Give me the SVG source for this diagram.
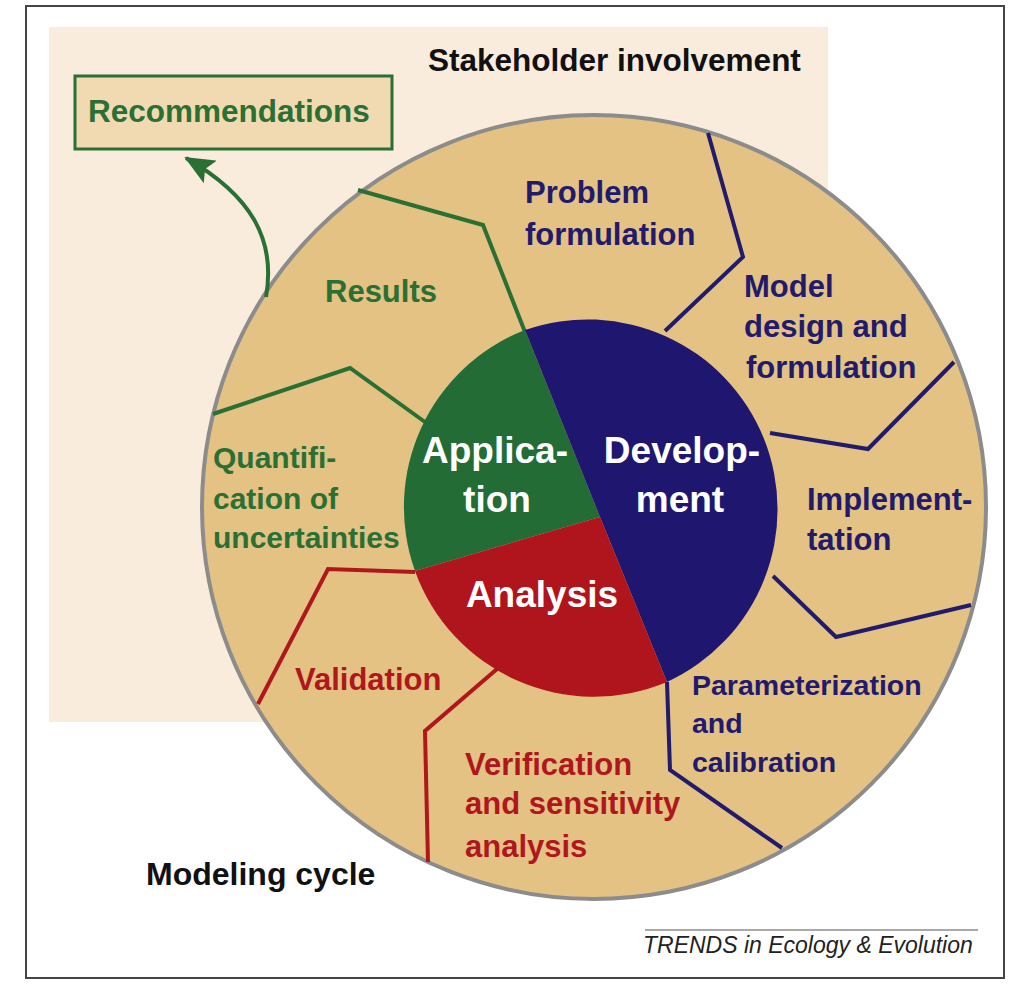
<svg xmlns="http://www.w3.org/2000/svg" width="1031" height="999" viewBox="0 0 1031 999">
<style>
text{font-family:"Liberation Sans",Arial,sans-serif;font-weight:bold}
.g{fill:#2a6f33}.b{fill:#221a6c}.r{fill:#b0171d}.k{fill:#111}.w{fill:#fff}
.cg{stroke:#2a6f33}.cb{stroke:#221a6c}.cr{stroke:#b0171d}
.con{fill:none;stroke-width:4;stroke-linejoin:miter}
</style>
<defs>
<marker id="ah" markerUnits="userSpaceOnUse" markerWidth="30" markerHeight="26" viewBox="0 0 30 26" refX="28" refY="13" orient="auto">
<path d="M0,0 L30,13 L0,26 L6,13 Z" fill="#2a6f33"/>
</marker>
</defs>
<rect x="0" y="0" width="1031" height="999" fill="#fff"/>
<g id="frame"><rect x="26" y="6" width="978" height="972" fill="#fff" stroke="#444" stroke-width="2"/></g>
<g id="stakeholder-area"><rect x="49" y="27" width="779" height="695" fill="#f9ecdc"/>
<text class="k" x="428" y="71" font-size="31.5">Stakeholder involvement</text></g>
<g id="recommendations"><rect x="75" y="76" width="317" height="73" fill="#f1dab2" stroke="#2a6f33" stroke-width="3"/>
<text class="g" x="88" y="122" font-size="31.5">Recommendations</text></g>
<g id="modeling-cycle"><circle cx="594" cy="507" r="392" fill="#e3c284" stroke="#8c8c8c" stroke-width="4"/></g>
<g id="connectors">
<polyline class="con cg" points="358,190 483,225 525,332"/>
<polyline class="con cg" points="213,414 350,368 425,422"/>
<polyline class="con cr" points="258,704 328,569 415,572"/>
<polyline class="con cr" points="428,862 425,731 497,669"/>
<polyline class="con cb" points="708,133 743,257 665,331"/>
<polyline class="con cb" points="954,362 868,449 770,433"/>
<polyline class="con cb" points="971,605 836,637 773,576"/>
<polyline class="con cb" points="782,848 670,770 667,682"/>
<path class="con cg" d="M266,297 C276,240 252,196 186,158" marker-end="url(#ah)"/>
</g>
<g id="application"><path d="M600,517 L525,330 A190,190 0 0 0 415,571 Z" fill="#236c36"/>
<text class="w" x="495" y="463" font-size="37" text-anchor="middle">Applica-</text>
<text class="w" x="497" y="512" font-size="37" text-anchor="middle">tion</text></g>
<g id="development"><path d="M600,517 L525,330 A190,190 0 0 1 667,682 Z" fill="#1f176f"/>
<text class="w" x="682" y="463" font-size="37" text-anchor="middle">Develop-</text>
<text class="w" x="680" y="512" font-size="37" text-anchor="middle">ment</text></g>
<g id="analysis"><path d="M600,517 L415,571 A190,190 0 0 0 667,682 Z" fill="#b0141c"/>
<text class="w" x="542" y="607" font-size="37" text-anchor="middle">Analysis</text></g>
<g id="problem-formulation"><text class="b" x="525" y="203" font-size="31">Problem</text><text class="b" x="525" y="245" font-size="31">formulation</text></g>
<g id="model-design"><text class="b" x="744" y="297" font-size="31">Model</text><text class="b" x="744" y="337" font-size="31">design and</text><text class="b" x="746" y="378" font-size="31">formulation</text></g>
<g id="implementation"><text class="b" x="807" y="510" font-size="31">Implement-</text><text class="b" x="807" y="550" font-size="31">tation</text></g>
<g id="parameterization"><text class="b" x="692" y="695" font-size="28.5">Parameterization</text><text class="b" x="692" y="733" font-size="28.5">and</text><text class="b" x="692" y="772" font-size="28.5">calibration</text></g>
<g id="verification"><text class="r" x="465" y="775" font-size="31">Verification</text><text class="r" x="465" y="814" font-size="31">and sensitivity</text><text class="r" x="465" y="857" font-size="31">analysis</text></g>
<g id="validation"><text class="r" x="295" y="690" font-size="31">Validation</text></g>
<g id="quantification"><text class="g" x="213" y="468" font-size="30">Quantifi-</text><text class="g" x="213" y="509" font-size="30">cation of</text><text class="g" x="213" y="548" font-size="30">uncertainties</text></g>
<g id="results"><text class="g" x="325" y="302" font-size="31">Results</text></g>
<g id="modeling-label"><text class="k" x="146" y="885" font-size="32">Modeling cycle</text></g>
<g id="credit"><line x1="645" y1="930" x2="978" y2="930" stroke="#555" stroke-width="1.2"/>
<text x="643" y="953" font-size="23" font-style="italic" font-weight="normal" fill="#222" style="font-weight:normal">TRENDS in Ecology &amp; Evolution</text></g>
</svg>
